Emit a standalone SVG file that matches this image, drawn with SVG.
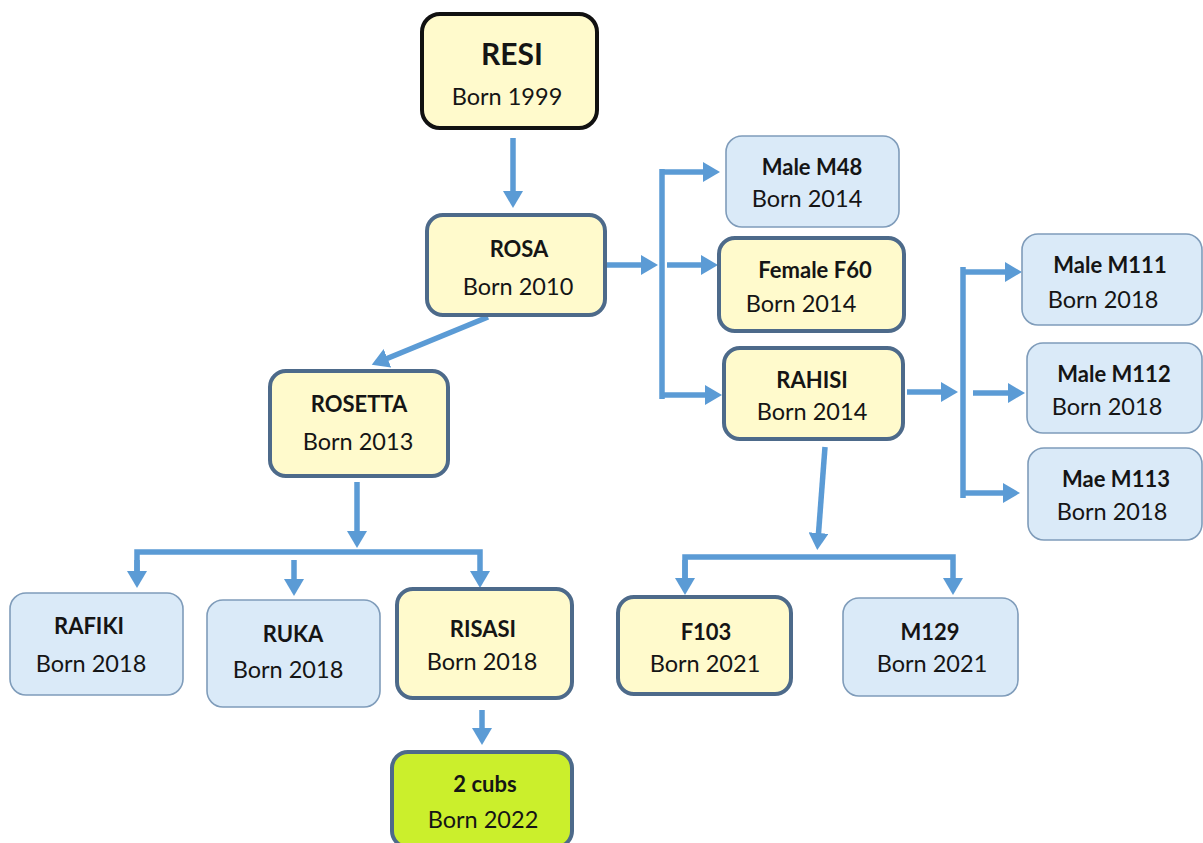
<svg xmlns="http://www.w3.org/2000/svg" width="1203" height="843" viewBox="0 0 1203 843">
<style>
.y{fill:#FFFACC;stroke:#4D6A8A;stroke-width:4}
.b{fill:#DAEAF8;stroke:#7F9CBA;stroke-width:1.6}
.g{fill:#CBEF2C;stroke:#4D6A8A;stroke-width:4}
.k{fill:#FFFACC;stroke:#111;stroke-width:4}
text{font-family:Lato,"Open Sans","Liberation Sans",sans-serif;fill:#151515;text-anchor:middle}
.t{font-weight:bold;font-size:22px}
.s{font-size:23.5px}
.c{fill:none;stroke:#5B9BD5;stroke-width:5.5}
</style>
<defs>
<marker id="ah" markerUnits="userSpaceOnUse" markerWidth="20" markerHeight="20" refX="7" refY="10" orient="auto">
<path d="M0,0 L17,10 L0,20 z" fill="#5B9BD5"/>
</marker>
</defs>
<rect width="1203" height="843" fill="#fff"/>
<g id="connectors">
<path class="c" d="M513,138 V198" marker-end="url(#ah)"/>
<path class="c" d="M488,317 L381,361" marker-end="url(#ah)"/>
<path class="c" d="M607,265 H648" marker-end="url(#ah)"/>
<path class="c" d="M662,169 V399"/>
<path class="c" d="M660,172 H710" marker-end="url(#ah)"/>
<path class="c" d="M667,265 H708" marker-end="url(#ah)"/>
<path class="c" d="M660,395 H712" marker-end="url(#ah)"/>
<path class="c" d="M907,392 H948" marker-end="url(#ah)"/>
<path class="c" d="M963,267 V498"/>
<path class="c" d="M961,272 H1012" marker-end="url(#ah)"/>
<path class="c" d="M973,393 H1015" marker-end="url(#ah)"/>
<path class="c" d="M961,493 H1010" marker-end="url(#ah)"/>
<path class="c" d="M825,447 L818,540" marker-end="url(#ah)"/>
<path class="c" d="M685,585 V557 H953 V585" marker-end="url(#ah)"/>
<path class="c" d="M685,560 V585" marker-end="url(#ah)"/>
<path class="c" d="M357,482 V538" marker-end="url(#ah)"/>
<path class="c" d="M137,578 V552 H480 V578" marker-end="url(#ah)"/>
<path class="c" d="M137,560 V578" marker-end="url(#ah)"/>
<path class="c" d="M294,560 V586" marker-end="url(#ah)"/>
<path class="c" d="M482,710 V735" marker-end="url(#ah)"/>
</g>
<g id="resi"><rect class="k" x="422" y="14" width="175" height="114" rx="18"/><text x="512" y="65" style="font-weight:bold;font-size:30px">RESI</text><text class="s" x="507" y="105">Born 1999</text></g>
<g id="rosa"><rect class="y" x="427" y="215" width="178" height="100" rx="16"/><text class="t" x="519" y="257">ROSA</text><text class="s" x="518" y="295">Born 2010</text></g>
<g id="m48"><rect class="b" x="726" y="136" width="173" height="91" rx="16"/><text class="t" x="812" y="175">Male M48</text><text class="s" x="807" y="207">Born 2014</text></g>
<g id="f60"><rect class="y" x="719" y="238" width="185" height="93" rx="16"/><text class="t" x="815" y="278">Female F60</text><text class="s" x="801" y="312">Born 2014</text></g>
<g id="rahisi"><rect class="y" x="724" y="348" width="179" height="91" rx="16"/><text class="t" x="812" y="388">RAHISI</text><text class="s" x="812" y="420">Born 2014</text></g>
<g id="m111"><rect class="b" x="1022" y="234" width="180" height="91" rx="16"/><text class="t" x="1110" y="273">Male M111</text><text class="s" x="1103" y="308">Born 2018</text></g>
<g id="m112"><rect class="b" x="1027" y="343" width="175" height="90" rx="16"/><text class="t" x="1114" y="382">Male M112</text><text class="s" x="1107" y="415">Born 2018</text></g>
<g id="m113"><rect class="b" x="1028" y="448" width="174" height="92" rx="16"/><text class="t" x="1116" y="487">Mae M113</text><text class="s" x="1112" y="520">Born 2018</text></g>
<g id="rosetta"><rect class="y" x="270" y="371" width="178" height="105" rx="16"/><text class="t" x="359" y="412">ROSETTA</text><text class="s" x="358" y="450">Born 2013</text></g>
<g id="rafiki"><rect class="b" x="10" y="593" width="173" height="102" rx="16"/><text class="t" x="89" y="634">RAFIKI</text><text class="s" x="91" y="672">Born 2018</text></g>
<g id="ruka"><rect class="b" x="207" y="600" width="173" height="107" rx="16"/><text class="t" x="293" y="642">RUKA</text><text class="s" x="288" y="678">Born 2018</text></g>
<g id="risasi"><rect class="y" x="397" y="589" width="175" height="109" rx="16"/><text class="t" x="483" y="637">RISASI</text><text class="s" x="482" y="670">Born 2018</text></g>
<g id="cubs"><rect class="g" x="392" y="752" width="180" height="95" rx="16"/><text class="t" x="485" y="792">2 cubs</text><text class="s" x="483" y="828">Born 2022</text></g>
<g id="f103"><rect class="y" x="618" y="597" width="173" height="97" rx="16"/><text class="t" x="706" y="640">F103</text><text class="s" x="705" y="672">Born 2021</text></g>
<g id="m129"><rect class="b" x="843" y="598" width="175" height="98" rx="16"/><text class="t" x="930" y="640">M129</text><text class="s" x="932" y="672">Born 2021</text></g>
</svg>
